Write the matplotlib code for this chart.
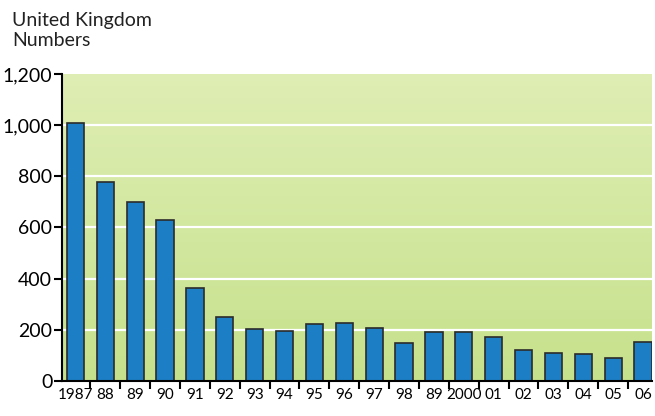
import numpy as np
import matplotlib.pyplot as plt
from matplotlib.colors import LinearSegmentedColormap

years = ['1987', '88', '89', '90', '91', '92', '93', '94', '95', '96',
         '97', '98', '89', '2000', '01', '02', '03', '04', '05', '06']
numbers = [1008, 778, 700, 629, 364, 249, 204, 197, 223, 226,
           207, 147, 190, 192, 172, 121, 111, 106, 90, 154]

plt.rcParams['font.family'] = ['Lato', 'DejaVu Sans']

fig = plt.figure(figsize=(6.55, 4.16), dpi=100)
ax = fig.add_axes([62 / 655, 1 - 381 / 416, (652 - 62) / 655, (381 - 74) / 416])

x = np.arange(len(years))
xmin, xmax = -0.45, len(years) - 0.7

# green gradient background
cmap = LinearSegmentedColormap.from_list('bg', ['#c6e18c', '#dfeeb4'])
grad = np.linspace(0, 1, 256).reshape(-1, 1)
ax.imshow(grad, aspect='auto', cmap=cmap, origin='lower',
          extent=[xmin, xmax, 0, 1200], zorder=0)

for v in range(200, 1200, 200):
    ax.axhline(v, color='white', lw=1.6, zorder=1)

ax.bar(x, numbers, width=0.58, color='#1c7fc6', edgecolor='#2b2b2b',
       linewidth=1.2, zorder=2)

ax.set_xlim(xmin, xmax)
ax.set_ylim(0, 1200)
ax.spines['top'].set_visible(False)
ax.spines['right'].set_visible(False)
ax.spines['left'].set_linewidth(1.5)
ax.spines['bottom'].set_linewidth(1.5)

ax.set_yticks(range(0, 1201, 200))
ax.set_yticklabels(['0', '200', '400', '600', '800', '1,000', '1,200'])
ax.tick_params(axis='y', direction='out', length=6, width=1.5, labelsize=14, pad=1)

ax.set_xticks(x)
ax.set_xticks(x[:-1] + 0.5, minor=True)
ax.set_xticklabels(years, fontsize=11)
ax.tick_params(axis='x', which='major', length=0, pad=5)
ax.tick_params(axis='x', which='minor', direction='out', length=6, width=1.5)

fig.text(12 / 655, 1 - 12 / 416, 'United Kingdom\nNumbers', ha='left', va='top',
         fontsize=14, linespacing=1.2, color='#222222')

fig.savefig('out.png', dpi=100)
